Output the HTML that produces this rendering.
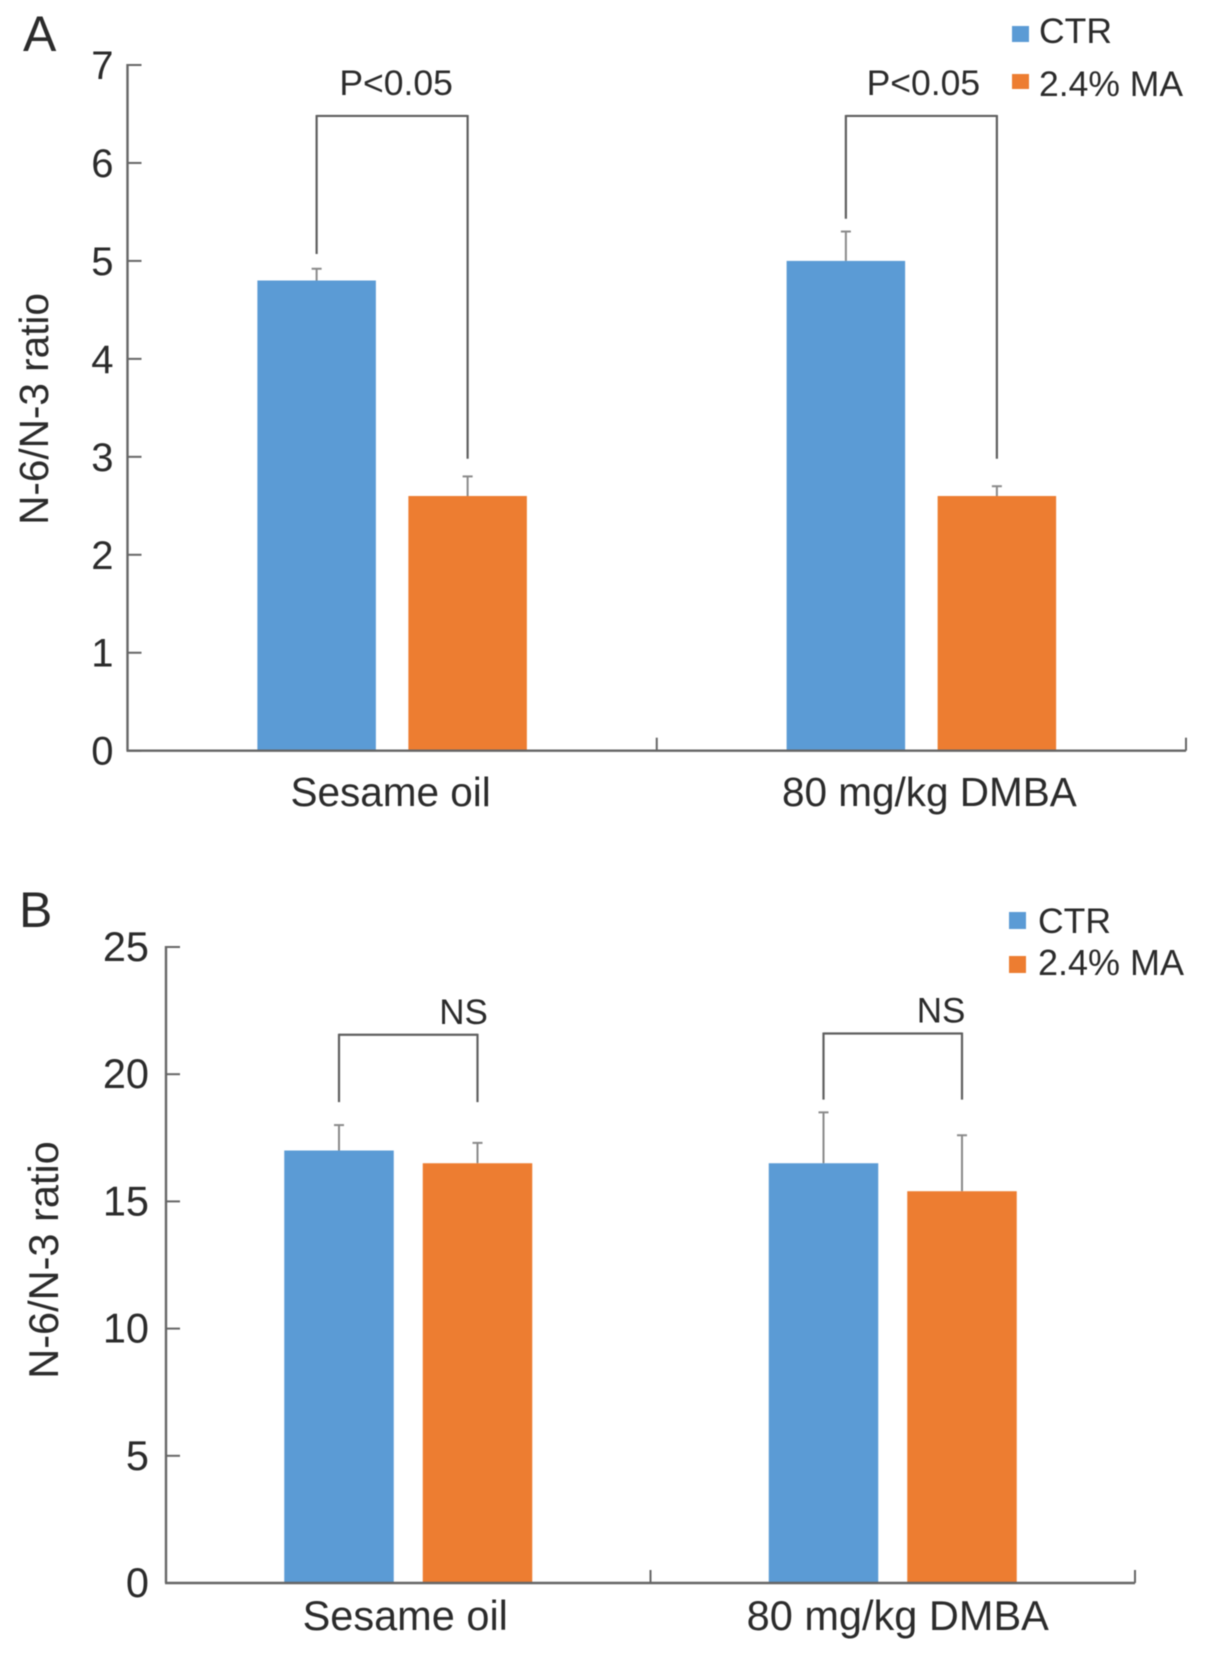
<!DOCTYPE html>
<html>
<head>
<meta charset="utf-8">
<style>
html,body{margin:0;padding:0;background:#fff;}
svg{display:block;filter:blur(0.6px);}
text{font-family:"Liberation Sans",Arial,sans-serif;fill:#2b2b2b;}
</style>
</head>
<body>
<svg id="chart" xmlns="http://www.w3.org/2000/svg" width="1205" height="1657" viewBox="0 0 1205 1657">
  <rect x="0" y="0" width="1205" height="1657" fill="#ffffff"/>
  <text x="23" y="51" font-size="50">A</text>
  <text x="19" y="927" font-size="50">B</text>

  <rect x="1012" y="26" width="17" height="16" fill="#5b9bd5"/>
  <text x="1039" y="43" font-size="35.5">CTR</text>
  <rect x="1012" y="74" width="17" height="15" fill="#ed7d31"/>
  <text x="1039" y="96" font-size="35.5">2.4% MA</text>

  <rect x="1009" y="912" width="17" height="17" fill="#5b9bd5"/>
  <text x="1038" y="933" font-size="35.5">CTR</text>
  <rect x="1009" y="956" width="17" height="17" fill="#ed7d31"/>
  <text x="1038" y="975" font-size="36">2.4% MA</text>

  <text transform="translate(48,409) rotate(-90)" text-anchor="middle" font-size="40.5">N-6/N-3 ratio</text>
  <text transform="translate(58,1260) rotate(-90)" text-anchor="middle" font-size="41.5">N-6/N-3 ratio</text>
  <g id="plots"></g>
</svg>
<script>
// Panel A data
const categoriesA = ['Sesame oil', '80 mg/kg DMBA'];
const ctrValuesA = [4.8, 5.0];
const maValuesA = [2.6, 2.6];
const ctrErrorsA = [0.12, 0.3];
const maErrorsA = [0.2, 0.1];
const yTicksA = [0, 1, 2, 3, 4, 5, 6, 7];
const sigLabelsA = ['P<0.05', 'P<0.05'];
const bracketTopsA = [6.48, 6.48];
const bracketLeftEndsA = [5.07, 5.43];
const bracketRightEndsA = [2.98, 2.98];

// Panel B data
const categoriesB = ['Sesame oil', '80 mg/kg DMBA'];
const ctrValuesB = [17.0, 16.5];
const maValuesB = [16.5, 15.4];
const ctrErrorsB = [1.0, 2.0];
const maErrorsB = [0.8, 2.2];
const yTicksB = [0, 5, 10, 15, 20, 25];
const sigLabelsB = ['NS', 'NS'];
const bracketTopsB = [21.55, 21.6];
const bracketLeftEndsB = [18.9, 19.0];
const bracketRightEndsB = [18.9, 19.0];

const svgNS = 'http://www.w3.org/2000/svg';
const root = document.getElementById('plots');
const AXIS = '#666666';
const BRACKET = '#5f5f5f';
const ERR = '#8a8a8a';

function addLine(x1, y1, x2, y2, color, width, name) {
  const el = document.createElementNS(svgNS, 'line');
  el.setAttribute('x1', x1);
  el.setAttribute('y1', y1);
  el.setAttribute('x2', x2);
  el.setAttribute('y2', y2);
  el.setAttribute('stroke', color);
  el.setAttribute('stroke-width', width);
  
  
  root.appendChild(el);
}

function addText(x, y, str, size, anchor, name) {
  const el = document.createElementNS(svgNS, 'text');
  el.setAttribute('x', x);
  el.setAttribute('y', y);
  el.setAttribute('font-size', size);
  el.setAttribute('text-anchor', anchor);
  
  
  el.textContent = str;
  root.appendChild(el);
}

function addBar(x, y, w, h, color, name) {
  const el = document.createElementNS(svgNS, 'rect');
  el.setAttribute('x', x);
  el.setAttribute('y', y);
  el.setAttribute('width', w);
  el.setAttribute('height', h);
  el.setAttribute('fill', color);
  
  
  root.appendChild(el);
}

function drawPanel(p) {
  const yScale = v => p.y0 - (v / p.yMax) * (p.y0 - p.yTop);
  const band = (p.xRight - p.xLeft) / p.categories.length;
  const xCenter = i => p.xLeft + band * (i + 0.5);

  p.categories.forEach((cat, i) => {
    const blueX = xCenter(i) - p.gap / 2 - p.barW;
    const orangeX = xCenter(i) + p.gap / 2;
    const blueC = blueX + p.barW / 2;
    const orangeC = orangeX + p.barW / 2;

    addLine(blueC, yScale(p.ctr[i]), blueC, yScale(p.ctr[i] + p.ctrErr[i]), ERR, 2, 'error-bar-ctr');
    addLine(blueC - 5, yScale(p.ctr[i] + p.ctrErr[i]), blueC + 5, yScale(p.ctr[i] + p.ctrErr[i]), ERR, 2, 'error-cap-ctr');
    addLine(orangeC, yScale(p.ma[i]), orangeC, yScale(p.ma[i] + p.maErr[i]), ERR, 2, 'error-bar-ma');
    addLine(orangeC - 5, yScale(p.ma[i] + p.maErr[i]), orangeC + 5, yScale(p.ma[i] + p.maErr[i]), ERR, 2, 'error-cap-ma');

    addBar(blueX, yScale(p.ctr[i]), p.barW, p.y0 - yScale(p.ctr[i]), '#5b9bd5', 'bar-ctr');
    addBar(orangeX, yScale(p.ma[i]), p.barW, p.y0 - yScale(p.ma[i]), '#ed7d31', 'bar-ma');

    const top = yScale(p.bracketTops[i]);
    addLine(blueC, top, orangeC, top, BRACKET, 2.2, 'significance-bracket-top');
    addLine(blueC, top - 1, blueC, yScale(p.bracketLeft[i]), BRACKET, 2.2, 'significance-bracket-left');
    addLine(orangeC, top - 1, orangeC, yScale(p.bracketRight[i]), BRACKET, 2.2, 'significance-bracket-right');
    addText(p.sigX(blueC, orangeC, i), top - p.sigOffset, p.sigLabels[i], p.sigSize, 'middle', 'significance-label');

    addText(xCenter(i) + p.labelShift[i], p.labelY, cat, p.labelSize, 'middle', 'x-axis-label');
  });

  addLine(p.xLeft, p.yTop - 1, p.xLeft, p.y0, AXIS, 2.4, 'y-axis-line');
  addLine(p.xLeft - 1, p.y0, p.xRight, p.y0, AXIS, 2.4, 'x-axis-line');
  for (let i = 1; i <= p.categories.length; i++) {
    const tx = p.xLeft + band * i;
    addLine(tx, p.y0, tx, p.y0 - 13, AXIS, 2, 'x-axis-tick');
  }
  p.ticks.forEach(t => {
    addLine(p.xLeft, yScale(t), p.xLeft + 14, yScale(t), AXIS, 2, 'y-axis-tick');
    addText(p.tickRight, yScale(t) + p.tickDy, String(t), p.tickSize, 'end', 'y-axis-tick-label');
  });
}

drawPanel({
  categories: categoriesA, ctr: ctrValuesA, ma: maValuesA, ctrErr: ctrErrorsA, maErr: maErrorsA,
  ticks: yTicksA, sigLabels: sigLabelsA, bracketTops: bracketTopsA, bracketLeft: bracketLeftEndsA, bracketRight: bracketRightEndsA,
  yMax: 7, xLeft: 127.5, xRight: 1186, y0: 750.7, yTop: 65,
  barW: 118.5, gap: 32.5, tickRight: 113.5, tickDy: 14, tickSize: 40, labelY: 806, labelSize: 40.5, labelShift: [-1.5, 8],
  sigSize: 35.5, sigOffset: 21, sigX: (a, b, i) => (a + b) / 2 + (i === 0 ? 4 : 2)
});

drawPanel({
  categories: categoriesB, ctr: ctrValuesB, ma: maValuesB, ctrErr: ctrErrorsB, maErr: maErrorsB,
  ticks: yTicksB, sigLabels: sigLabelsB, bracketTops: bracketTopsB, bracketLeft: bracketLeftEndsB, bracketRight: bracketRightEndsB,
  yMax: 25, xLeft: 166, xRight: 1135, y0: 1583, yTop: 947,
  barW: 109.5, gap: 29, tickRight: 149, tickDy: 14, tickSize: 41.5, labelY: 1630, labelSize: 41.5, labelShift: [-3, 5],
  sigSize: 35, sigOffset: 11, sigX: (a, b, i) => b - (i === 0 ? 14 : 21)
});
</script>
</body>
</html>
